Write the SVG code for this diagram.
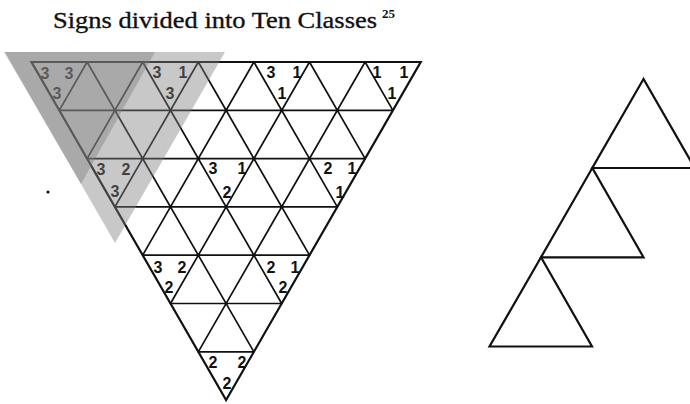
<svg xmlns="http://www.w3.org/2000/svg" width="690" height="404" viewBox="0 0 690 404">
<style>
.title{font-family:"Liberation Serif","Times New Roman",serif;font-size:24px;fill:#111;stroke:#111;stroke-width:0.35}
.sup{font-family:"Liberation Serif","Times New Roman",serif;font-size:13px;font-weight:bold;fill:#111}
.d{font-family:"Liberation Sans",Arial,sans-serif;font-size:16px;font-weight:bold;fill:#111;text-anchor:middle}
.g{stroke:#111;stroke-width:1.7;fill:none;stroke-linecap:round}
.o{stroke:#111;stroke-width:2.2;fill:none;stroke-linejoin:miter}
.r{stroke:#111;stroke-width:2.2;fill:none;stroke-linejoin:miter}
.shade{fill:#7f7f7f}
</style>
<rect width="690" height="404" fill="#fff"/>
<g id="title">
<text class="title" x="53" y="28" textLength="324" lengthAdjust="spacingAndGlyphs">Signs divided into Ten Classes</text>
<text class="sup" x="382" y="18">25</text>
</g>
<g id="grid">
<polygon class="o" points="31.5,62 420.7,62 226.1,400.1"/>
<path class="g" d="M59.3,110.3H392.9 M87.1,158.6H365.1 M114.9,206.9H337.3 M142.7,255.2H309.5 M170.5,303.5H281.7 M198.3,351.8H253.9
M87.1,62L253.9,351.8 M142.7,62L281.7,303.5 M198.3,62L309.5,255.2 M253.9,62L337.3,206.9 M309.5,62L365.1,158.6 M365.1,62L392.9,110.3
M87.1,62L59.3,110.3 M142.7,62L87.1,158.6 M198.3,62L114.9,206.9 M253.9,62L142.7,255.2 M309.5,62L170.5,303.5 M365.1,62L198.3,351.8"/>
</g>
<g id="labels">
<g id="c333"><text class="d" x="45" y="79">3</text><text class="d" x="69" y="79">3</text><text class="d" x="57" y="99">3</text></g>
<g id="c313"><text class="d" x="157" y="78">3</text><text class="d" x="183" y="78">1</text><text class="d" x="170" y="99">3</text></g>
<g id="c311"><text class="d" x="271" y="78">3</text><text class="d" x="297" y="78">1</text><text class="d" x="282" y="99">1</text></g>
<g id="c111"><text class="d" x="377" y="78">1</text><text class="d" x="404" y="78">1</text><text class="d" x="392" y="99">1</text></g>
<g id="c323"><text class="d" x="101" y="175">3</text><text class="d" x="126" y="175">2</text><text class="d" x="115" y="197">3</text></g>
<g id="c312"><text class="d" x="213" y="174">3</text><text class="d" x="242" y="174">1</text><text class="d" x="227" y="198">2</text></g>
<g id="c211"><text class="d" x="328" y="174">2</text><text class="d" x="352" y="174">1</text><text class="d" x="340" y="198">1</text></g>
<g id="c322"><text class="d" x="158" y="273">3</text><text class="d" x="182" y="273">2</text><text class="d" x="169" y="293">2</text></g>
<g id="c212"><text class="d" x="271" y="273">2</text><text class="d" x="295" y="273">1</text><text class="d" x="283" y="293">2</text></g>
<g id="c222"><text class="d" x="213" y="368">2</text><text class="d" x="242" y="368">2</text><text class="d" x="227" y="389">2</text></g>
</g>
<g id="shading">
<polygon class="shade" fill-opacity="0.43" points="5,52 225,52 115,243"/>
<polygon class="shade" fill-opacity="0.41" points="4,52 155,52 81,184"/>
</g>
<circle id="dot" cx="48" cy="192" r="1.6" fill="#111"/>
<g id="steps">
<polygon id="t1" class="r" points="643.5,79 592.3,168 694.7,168"/>
<polygon id="t2" class="r" points="592.3,168 541,257.3 643.5,257.3"/>
<polygon id="t3" class="r" points="541,257.3 489.5,346.5 592,346.5"/>
</g>
</svg>
